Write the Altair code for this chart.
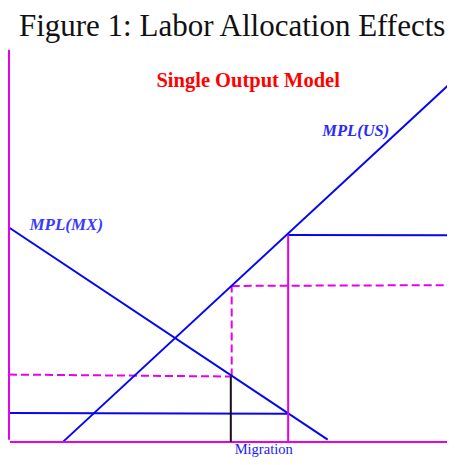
import altair as alt
import pandas as pd

# ---- data (economic units: labor 0-100 on x, wage 0-100 on y) ----
seg_name = ["y_axis", "x_axis", "mpl_mx", "mpl_us", "wage_us_new", "us_vertical",
            "wage_mx_new", "dash_low", "dash_vert", "dash_high", "migration_mark"]
seg_x1 = [0.0, 0.2, 0.0, 12.2, 62.8, 62.8, 0.0, 0.0, 50.1, 50.1, 49.9]
seg_y1 = [0.6, 0.0, 54.7, 0.1, 52.8, 0.0, 7.4, 17.2, 16.7, 39.8, 0.0]
seg_x2 = [0.0, 100.0, 71.7, 100.0, 100.0, 62.8, 62.8, 50.1, 50.1, 100.0, 49.9]
seg_y2 = [100.0, 0.0, 0.6, 92.2, 52.7, 52.8, 7.2, 16.7, 39.9, 40.0, 16.7]
seg_style = ["magenta", "magenta", "blue", "blue", "blue", "magenta",
             "blue", "magenta_dash", "magenta_dash", "magenta_dash", "black"]

label_text = ["Figure 1: Labor Allocation Effects", "Single Output Model",
              "MPL(US)", "MPL(MX)", "Migration"]
label_x = [50.2, 53.8, 70.5, 4.6, 57.3]
label_y = [103.5, 90.4, 77.9, 54.0, -2.93]

segs = pd.DataFrame({"name": seg_name, "x": seg_x1, "y": seg_y1,
                     "x2": seg_x2, "y2": seg_y2, "style": seg_style})
labels = pd.DataFrame({"text": label_text, "x": label_x, "y": label_y})

X_DOM = [-0.225, 98.54]
Y_DOM = [-3.82, 110.66]
xs = alt.Scale(domain=X_DOM, nice=False, zero=False)
ys = alt.Scale(domain=Y_DOM, nice=False, zero=False)

BLUE = "#0505f0"
MAG = "#e800e8"


def rules(style, color, dash=None, width=2):
    kw = dict(color=color, strokeWidth=width)
    if dash:
        kw["strokeDash"] = dash
    return alt.Chart(segs).transform_filter(
        alt.datum.style == style
    ).mark_rule(**kw).encode(
        x=alt.X("x:Q", scale=xs, axis=None),
        y=alt.Y("y:Q", scale=ys, axis=None),
        x2="x2:Q",
        y2="y2:Q",
    )


def text_layer(name, **kw):
    return alt.Chart(labels).transform_filter(
        alt.datum.text == name
    ).mark_text(baseline="alphabetic", **kw).encode(
        x=alt.X("x:Q", scale=xs, axis=None),
        y=alt.Y("y:Q", scale=ys, axis=None),
        text="text:N",
    )


layers = [
    rules("magenta_dash", MAG, dash=[8, 4]),
    rules("blue", BLUE),
    rules("magenta", MAG),
    rules("black", "#1a0a1a"),
    text_layer(label_text[0], font="Liberation Serif", fontSize=31, color="#111111", align="center"),
    text_layer(label_text[1], font="Liberation Serif", fontSize=20.5, fontWeight="bold", color="#ff0000", align="center"),
    text_layer(label_text[2], font="Liberation Serif", fontSize=16.5, fontWeight="bold", fontStyle="italic", color="#2a2aff", align="left"),
    text_layer(label_text[3], font="Liberation Serif", fontSize=17, fontWeight="bold", fontStyle="italic", color="#3a3aff", align="left"),
    text_layer(label_text[4], font="Liberation Serif", fontSize=14.5, color="#1a1aff", align="center"),
]

chart = alt.layer(*layers).properties(
    width=439, height=449, padding=0,
    autosize=alt.AutoSizeParams(type="none"),
).configure_view(stroke=None)

chart.save("out.html", embed_options={"renderer": "svg", "actions": False})
